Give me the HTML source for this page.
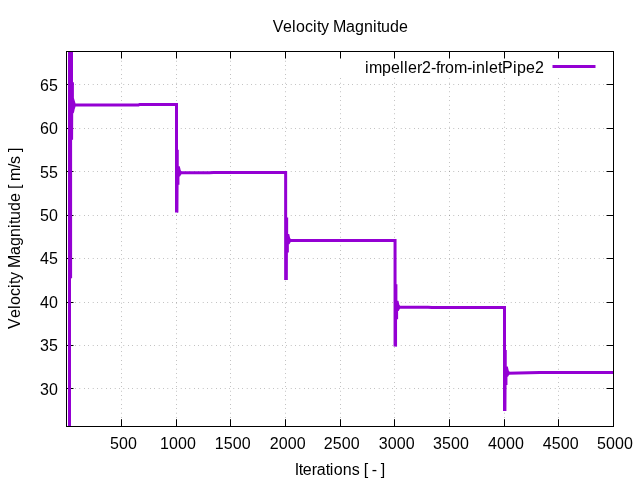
<!DOCTYPE html>
<html lang="en"><head><meta charset="utf-8"><title>Velocity Magnitude</title>
<style>html,body{margin:0;padding:0;background:#fff;overflow:hidden}svg{display:block}text{font-family:"Liberation Sans",sans-serif;font-size:16px;fill:#000}</style></head><body>
<svg width="640" height="480" viewBox="0 0 640 480">
<rect width="640" height="480" fill="#fff"/>
<path d="M66.5 84.5H613.5M66.5 128.5H613.5M66.5 171.5H613.5M66.5 215.5H613.5M66.5 258.5H613.5M66.5 302.5H613.5M66.5 345.5H613.5M66.5 388.5H613.5M121.5 426.5V51.5M176.5 426.5V51.5M230.5 426.5V51.5M285.5 426.5V51.5M340.5 426.5V77M394.5 426.5V77M449.5 426.5V77M504.5 426.5V77M558.5 426.5V77" fill="none" stroke="#000" stroke-width="0.6" stroke-dasharray="0.4 4"/>
<path d="M66.5 84.5h7M613.5 84.5h-7M66.5 128.5h7M613.5 128.5h-7M66.5 171.5h7M613.5 171.5h-7M66.5 215.5h7M613.5 215.5h-7M66.5 258.5h7M613.5 258.5h-7M66.5 302.5h7M613.5 302.5h-7M66.5 345.5h7M613.5 345.5h-7M66.5 388.5h7M613.5 388.5h-7M121.5 426.5v-7.3M121.5 51.5v7M176.5 426.5v-7.3M176.5 51.5v7M230.5 426.5v-7.3M230.5 51.5v7M285.5 426.5v-7.3M285.5 51.5v7M340.5 426.5v-7.3M340.5 51.5v7M394.5 426.5v-7.3M394.5 51.5v7M449.5 426.5v-7.3M449.5 51.5v7M504.5 426.5v-7.3M504.5 51.5v7M558.5 426.5v-7.3M558.5 51.5v7" fill="none" stroke="#000" stroke-width="1"/>
<g fill="#9400d3" stroke="none">
<path d="M68 51.5H73V82L73.9 82.5V98L74.5 100L75.4 103L75.6 105L75.4 107L74.6 109.5L74 112.5L73.2 113.5L73.1 139.5L72.1 140V278L71 278.5V426.5H68Z"/>
<path d="M177.00 149.70L178.75 149.70L178.75 166.20L179.80 166.20L180.70 170.20L181.40 171.20L181.40 174.20L181.00 174.70L180.00 176.40L179.45 176.40L179.45 184.70L178.40 184.70L178.40 212.50L177.00 212.50Z"/>
<path d="M286.40 217.45L288.15 217.45L288.15 233.95L289.20 233.95L290.10 237.95L290.80 238.95L290.80 241.95L290.40 242.45L289.40 244.15L288.85 244.15L288.85 252.45L287.80 252.45L287.80 280.00L286.40 280.00Z"/>
<path d="M395.65 284.35L397.40 284.35L397.40 300.85L398.45 300.85L399.35 304.85L400.05 305.85L400.05 308.85L399.65 309.35L398.65 311.05L398.10 311.05L398.10 319.35L397.05 319.35L397.05 346.50L395.65 346.50Z"/>
<path d="M505.00 350.05L506.75 350.05L506.75 366.55L507.80 366.55L508.70 370.55L509.40 371.55L509.40 374.55L509.00 375.05L508.00 376.75L507.45 376.75L507.45 385.05L506.40 385.05L506.40 411.00L505.00 411.00Z"/>
</g>
<path d="M70 104.95L70 104.95L138.5 104.95L139.5 104.4L176.5 104.4L176.5 212.5L176.9 172.8L209.5 172.8L213.5 172.45L285.65 172.45L285.65 280.0L286.04999999999995 240.45L395.05 240.45L395.05 346.5L395.45 307.3L428 307.3L432 307.5L504.5 307.5L504.5 411.0L504.9 373.2L540 372.45L613.5 372.4" fill="none" stroke="#9400d3" stroke-width="3" stroke-linejoin="miter" stroke-miterlimit="10"/>
<path d="M552.5 66.5H595.5" stroke="#9400d3" stroke-width="3" fill="none"/>
<text x="365 369 382 391 400 404 408 417 422 431 436 440 445 454 467 472 476 485 489 498 502 513 517 526 535" y="72.7">impeller2-from-inletPipe2</text>
<rect x="66.5" y="51.5" width="547.0" height="375.0" fill="none" stroke="#000" stroke-width="1"/>
<text x="272.8 282.9 291.9 295.9 304.9 312.9 316.9 320.9 328.9 332.9 345.9 354.9 363.9 372.9 376.9 380.9 389.9 398.9" y="32">Velocity Magnitude</text>
<text x="294.7 298.7 302.7 311.7 316.7 325.7 329.7 333.7 342.7 351.7 359.7 363.7 367.7 371.7 376.7 380.7" y="474.7">Iterations [ - ]</text>
<text x="-90.5 -79.5 -70.5 -66.5 -57.5 -49.5 -45.5 -41.5 -33.5 -29.5 -16.5 -7.5 1.5 10.5 14.5 18.5 27.5 36.5 45.5 49.5 53.5 57.5 70.5 74.5 82.5 86.5" y="0" transform="translate(20.2 238.5) rotate(-90)">Velocity Magnitude [ m/s ]</text>
<text x="40 49" y="90.55">65</text>
<text x="40 49" y="134.03">60</text>
<text x="40 49" y="177.5">55</text>
<text x="40 49" y="220.98">50</text>
<text x="40 49" y="264.45">45</text>
<text x="40 49" y="307.92">40</text>
<text x="40 49" y="351.4">35</text>
<text x="40 49" y="394.88">30</text>
<text x="109.9 118.9 127.9" y="448.7">500</text>
<text x="160 169 178 187" y="448.7">1000</text>
<text x="214.7 223.7 232.7 241.7" y="448.7">1500</text>
<text x="269.7 278.7 287.7 296.7" y="448.7">2000</text>
<text x="323.7 332.7 341.7 350.7" y="448.7">2500</text>
<text x="378.7 387.7 396.7 405.7" y="448.7">3000</text>
<text x="433.1 442.1 451.1 460.1" y="448.7">3500</text>
<text x="488 497 506 515" y="448.7">4000</text>
<text x="542.8 551.8 560.8 569.8" y="448.7">4500</text>
<text x="597 606 615 624" y="448.7">5000</text>
</svg></body></html>
